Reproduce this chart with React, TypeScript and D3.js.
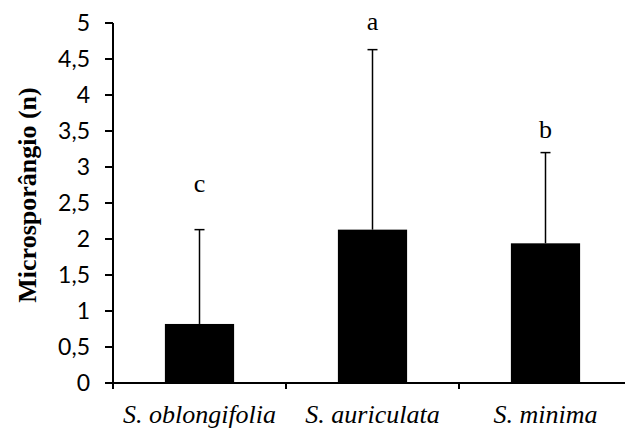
import React from "react";
import * as d3 from "d3";

const categories = ["S. oblongifolia", "S. auriculata", "S. minima"];
const means = [0.82, 2.13, 1.94];
const errors = [1.31, 2.5, 1.26];
const letters = ["c", "a", "b"];
const letterValues = [2.65, 4.9, 3.4];
const yTicks = [0, 0.5, 1, 1.5, 2, 2.5, 3, 3.5, 4, 4.5, 5];

export default function App() {
  const W = 625, H = 432;
  const x0 = 113, x1 = 632, yTop = 23, yBot = 383;
  const x = d3.scaleBand().domain(categories).range([x0, x1]).paddingInner(0.6).paddingOuter(0.3);
  const xb = d3.scaleBand().domain(categories).range([x0, x1]);
  const y = d3.scaleLinear().domain([0, 5]).range([yBot, yTop]);
  const fmt = (v: number) => String(v).replace(".", ",");
  const serif = "'Liberation Serif', 'Times New Roman', serif";
  return (
    <svg width={W} height={H} style={{ position: "absolute", left: 0, top: 0, background: "#fff" }}>
      {categories.map((c, i) => {
        const bx = x(c)!;
        const bw = x.bandwidth();
        const cx = bx + bw / 2;
        return (
          <g key={c}>
            <line x1={cx} x2={cx} y1={y(means[i])} y2={y(means[i] + errors[i])} stroke="#000" strokeWidth={1.5} />
            <line x1={cx - 5} x2={cx + 5} y1={y(means[i] + errors[i])} y2={y(means[i] + errors[i])} stroke="#000" strokeWidth={1.5} />
            <rect x={bx} y={y(means[i])} width={bw} height={yBot - y(means[i])} fill="#000" />
          </g>
        );
      })}
      <line x1={x0} x2={x0} y1={yTop} y2={yBot} stroke="#000" strokeWidth={2} />
      {yTicks.map((t) => (
        <g key={t}>
          <line x1={x0 - 8} x2={x0} y1={y(t)} y2={y(t)} stroke="#000" strokeWidth={2} />
          <text x={90} y={y(t)} dy="0.36em" textAnchor="end" fontFamily="Lato, 'Open Sans', sans-serif" fontSize={23} fill="#000">
            {fmt(t)}
          </text>
        </g>
      ))}
      <line x1={x0 - 6} x2={W} y1={yBot} y2={yBot} stroke="#000" strokeWidth={2} />
      {[0, 1, 2].map((i) => (
        <line key={i} x1={x0 + i * xb.bandwidth()} x2={x0 + i * xb.bandwidth()} y1={yBot} y2={yBot + 6} stroke="#000" strokeWidth={2} />
      ))}
      {categories.map((c) => (
        <text key={c} x={x(c)! + x.bandwidth() / 2} y={423} textAnchor="middle" fontFamily={serif} fontStyle="italic" fontSize={26} fill="#000">
          {c}
        </text>
      ))}
      {categories.map((c, i) => (
        <text key={"l" + c} x={x(c)! + x.bandwidth() / 2} y={y(letterValues[i])} textAnchor="middle" fontFamily={serif} fontSize={26} fill="#000">
          {letters[i]}
        </text>
      ))}
      <text transform={`translate(36,195) rotate(-90)`} textAnchor="middle" fontFamily={serif} fontWeight="bold" fontSize={26} fill="#000">
        Microsporângio (n)
      </text>
    </svg>
  );
}
